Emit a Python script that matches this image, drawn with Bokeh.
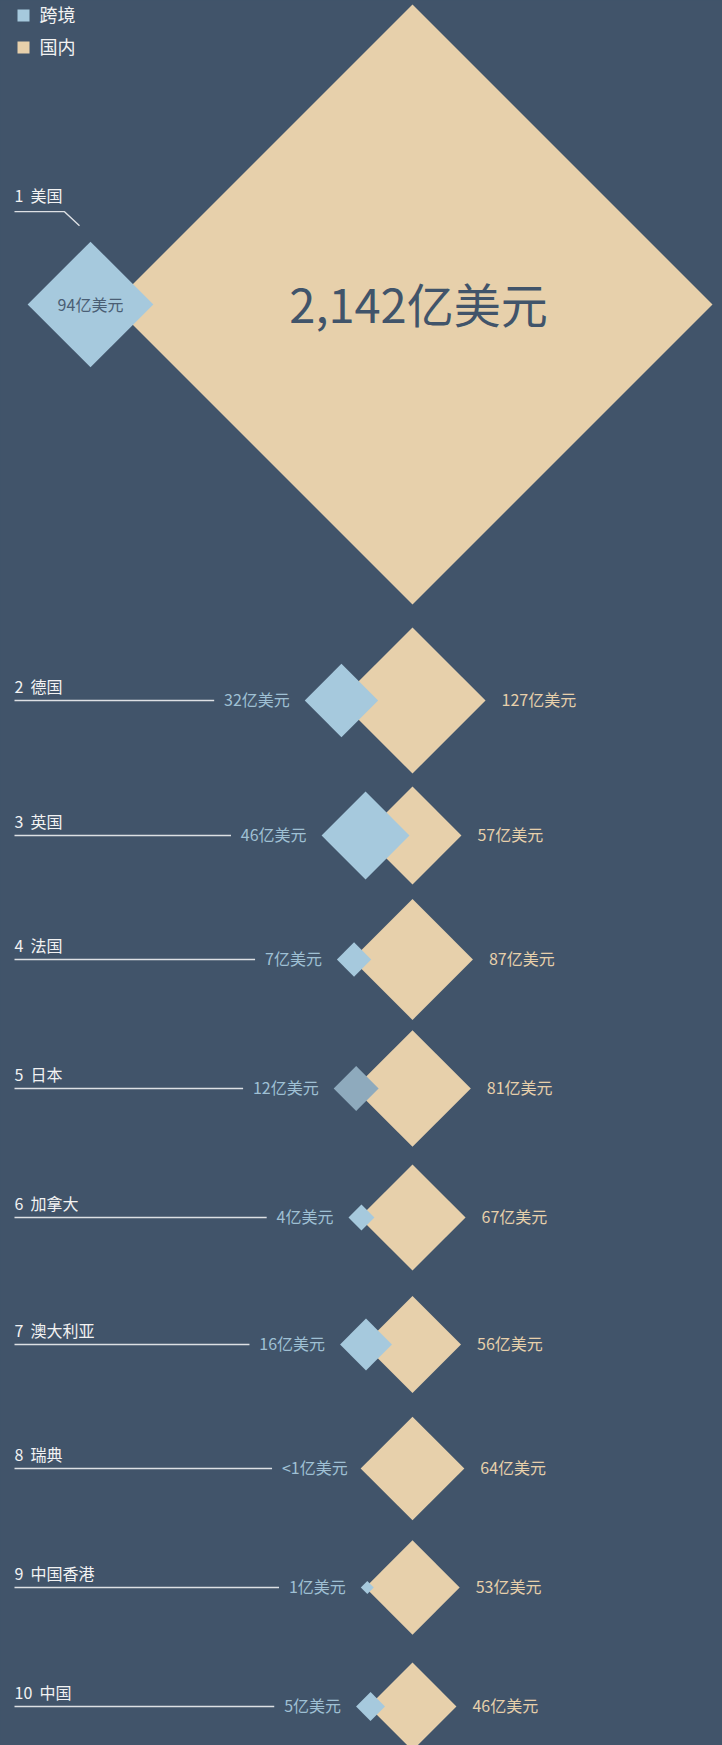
import math
from bokeh.plotting import figure
from bokeh.models import ColumnDataSource, Range1d
from bokeh.core.properties import value
from bokeh.embed import file_html
from bokeh.resources import INLINE

# ---------------- data ----------------
ranks = [1, 2, 3, 4, 5, 6, 7, 8, 9, 10]
countries = ["美国", "德国", "英国", "法国", "日本", "加拿大", "澳大利亚", "瑞典", "中国香港", "中国"]
cross_values = [94, 32, 46, 7, 12, 4, 16, 0, 1, 5]          # 跨境 (亿美元); 瑞典 "<1"
domestic_values = [2142, 127, 57, 87, 81, 67, 56, 64, 53, 46]  # 国内 (亿美元)
legend_labels = ["跨境", "国内"]
unit = "亿美元"

# ---------------- layout / style ----------------
BG = "#41546a"
DOM_COLOR = "#e7d0ab"
CROSS_COLOR = "#a6c9dd"
CROSS_HILITE = "#8eaabd"
CROSS_TEXT = "#9fc0d4"
DOM_TEXT = "#e7d0ab"
LABEL_TEXT = "#f2f2f2"
LINE_COLOR = "#dde0e4"
FONT = "Noto Sans CJK SC"
highlight = "日本"

row_y = [304, 700, 835, 959, 1088, 1217, 1344, 1468, 1587, 1706]   # row centres (px)
centre_x = 412
SCALE = 300 / math.sqrt(2142)          # px of half-diagonal per sqrt(亿美元)
cross_shift = [-22, 2, 2, 2, 2, 2, 2, 2, 2, 2]

W, H = 722, 1745
p = figure(width=W, height=H, x_range=Range1d(0, W), y_range=Range1d(H, 0),
           output_backend="svg", toolbar_location=None, min_border=0)
p.axis.visible = False
p.grid.visible = False
p.outline_line_color = None
p.background_fill_color = BG
p.border_fill_color = BG


def fmt(v):
    return ("<1" if v < 1 else f"{v:,}") + unit


def est_w(s, fs):
    return sum(fs if ord(c) > 0x2e80 else 0.55 * fs for c in s)


def diamond(cx, cy, h):
    return [cx - h, cx, cx + h, cx], [cy, cy - h, cy, cy + h]


dom_h = [SCALE * math.sqrt(v) for v in domestic_values]
cross_h = [SCALE * math.sqrt(v) for v in cross_values]
cross_cx = [centre_x - dh + s for dh, s in zip(dom_h, cross_shift)]

# domestic diamonds
dxs, dys = [], []
for h, cy in zip(dom_h, row_y):
    xs, ys = diamond(centre_x, cy, h)
    dxs.append(xs); dys.append(ys)
p.patches(xs=dxs, ys=dys, fill_color=DOM_COLOR, line_color=None)

# cross-border diamonds
cxs, cys, ccol = [], [], []
for h, cx, cy, c in zip(cross_h, cross_cx, row_y, countries):
    if h <= 0:
        continue
    xs, ys = diamond(cx, cy, h)
    cxs.append(xs); cys.append(ys)
    ccol.append(CROSS_HILITE if c == highlight else CROSS_COLOR)
p.patches(xs=cxs, ys=cys, fill_color=ccol, line_color=None)

VFS = 16
SP = "\u00a0\u00a0"
# value labels, rows 2-10
cl_x, cl_y, cl_t, dl_x, dl_y, dl_t = [], [], [], [], [], []
nm_x, nm_y, nm_t = [], [], []
ln_xs, ln_ys = [], []
for i in range(1, len(countries)):
    cy = row_y[i]
    right = cross_cx[i] - cross_h[i] - 15
    t = fmt(cross_values[i])
    cl_x.append(right); cl_y.append(cy - 2); cl_t.append(t)
    dl_x.append(centre_x + dom_h[i] + 16); dl_y.append(cy - 2); dl_t.append(fmt(domestic_values[i]))
    nm_x.append(14); nm_y.append(cy - 15); nm_t.append(f"{ranks[i]}{SP}{countries[i]}")
    end = right - est_w(t, VFS) - 10
    ln_xs.append([14, end]); ln_ys.append([cy, cy])

p.text(x=cl_x, y=cl_y, text=cl_t, text_font=value(FONT), text_font_size=value(f"{VFS}px"),
       text_color=CROSS_TEXT, text_align="right", text_baseline="middle")
p.text(x=dl_x, y=dl_y, text=dl_t, text_font=value(FONT), text_font_size=value(f"{VFS}px"),
       text_color=DOM_TEXT, text_align="left", text_baseline="middle")

# US (rank 1) leader and labels
top = row_y[0] - cross_h[0]
nm_x.append(14); nm_y.append(top - 47); nm_t.append(f"{ranks[0]}{SP}{countries[0]}")
ln_xs.append([14, cross_cx[0] - 26, cross_cx[0] - 11])
ln_ys.append([top - 30, top - 30, top - 16])

p.multi_line(xs=ln_xs, ys=ln_ys, line_color=LINE_COLOR, line_width=1.4)
p.text(x=nm_x, y=nm_y, text=nm_t, text_font=value(FONT), text_font_size=value("16px"),
       text_color=LABEL_TEXT, text_align="left", text_baseline="alphabetic")

p.text(x=[cross_cx[0]], y=[row_y[0] - 1], text=[fmt(cross_values[0])], text_font=value(FONT),
       text_font_size=value("16px"), text_color="#4a5e74", text_align="center", text_baseline="middle")
p.text(x=[centre_x + 6], y=[row_y[0] - 2], text=[fmt(domestic_values[0])], text_font=value(FONT),
       text_font_size=value("47px"), text_font_style="normal", text_color=BG,
       text_align="center", text_baseline="middle")

# legend
leg_y = [15, 47]
p.rect(x=[23, 23], y=leg_y, width=12, height=12, fill_color=[CROSS_COLOR, DOM_COLOR], line_color=None)
p.text(x=[39, 39], y=[y - 2 for y in leg_y], text=legend_labels, text_font=value(FONT),
       text_font_size=value("18px"), text_color=LABEL_TEXT, text_align="left", text_baseline="middle")

html = file_html(p, INLINE)
html = html.replace("</head>", "<style>html,body{background:%s;}</style></head>" % BG, 1)
open("out.html", "w").write(html)
